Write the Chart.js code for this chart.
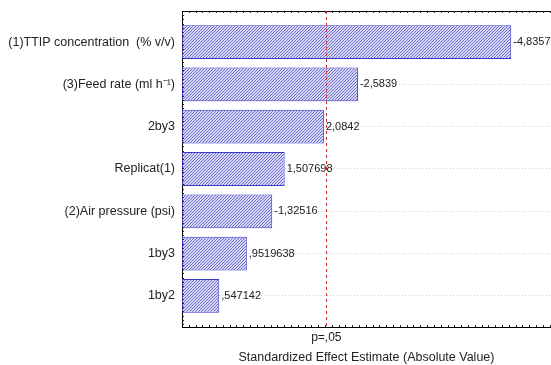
<!DOCTYPE html>
<html>
<head>
<meta charset="utf-8">
<script src="https://cdn.jsdelivr.net/npm/chart.js@4/dist/chart.umd.min.js"></script>
<style>
  html, body { margin: 0; padding: 0; background: #fff; }
  #wrap { width: 551px; height: 365px; }
</style>
</head>
<body>
<div id="wrap"><canvas id="pareto"></canvas></div>
<script>
// Pareto chart of standardized effects
const effectNames = [
    '(1)TTIP concentration  (% v/v)',
    '(3)Feed rate (ml h\u207B\u00B9)',
    '2by3',
    'Replicat(1)',
    '(2)Air pressure (psi)',
    '1by3',
    '1by2'
];
const effectValues = [-4.8357, -2.5839, 2.0842, 1.507698, -1.32516, 0.9519638, 0.547142];
const effectLabels = ['-4,8357', '-2,5839', '2,0842', '1,507698', '-1,32516', ',9519638', ',547142'];
const pCritical = 2.12;
const pLabel = 'p=,05';
const xMax = 5.42;

const FONT = '"Liberation Sans", Arial, sans-serif';

// diagonal hatch fill for the bars
function hatch() {
    const c = document.createElement('canvas');
    c.width = 3; c.height = 3;
    const g = c.getContext('2d');
    g.fillStyle = '#d8d8f6';
    g.fillRect(0, 0, 3, 3);
    g.strokeStyle = '#6060c4';
    g.lineWidth = 0.9;
    g.beginPath();
    g.moveTo(-1, 4); g.lineTo(4, -1);
    g.moveTo(-1, 1); g.lineTo(1, -1);
    g.moveTo(2, 4); g.lineTo(4, 2);
    g.stroke();
    return g.createPattern(c, 'repeat');
}

// frame, minor ticks, critical line and bar value labels
const decorations = {
    id: 'decorations',
    afterDatasetsDraw(chart) {
        const { ctx, chartArea: a, scales: { x, y } } = chart;
        ctx.save();
        ctx.strokeStyle = '#000';
        ctx.lineWidth = 1;
        ctx.beginPath();
        ctx.moveTo(a.left, a.top + 0.5);
        ctx.lineTo(a.right, a.top + 0.5);
        ctx.stroke();

        ctx.strokeStyle = '#222';
        ctx.beginPath();
        for (let v = 0.1; v < xMax; v += 0.1) {
            const px = Math.round(x.getPixelForValue(v)) + 0.5;
            ctx.moveTo(px, a.top); ctx.lineTo(px, a.top + 2);
            ctx.moveTo(px, a.bottom); ctx.lineTo(px, a.bottom - 2);
        }
        for (let v = y.min + 0.1; v < y.max; v += 0.1) {
            const py = Math.round(y.getPixelForValue(v)) + 0.5;
            ctx.moveTo(a.left, py); ctx.lineTo(a.left + 2, py);
        }
        ctx.stroke();

        const px = Math.round(x.getPixelForValue(pCritical)) + 0.5;
        ctx.strokeStyle = '#c83232';
        ctx.setLineDash([3, 3]);
        ctx.beginPath();
        ctx.moveTo(px, a.top);
        ctx.lineTo(px, a.bottom);
        ctx.stroke();
        ctx.setLineDash([]);

        ctx.fillStyle = '#222';
        ctx.font = '11px ' + FONT;
        ctx.textBaseline = 'middle';
        ctx.textAlign = 'left';
        chart.getDatasetMeta(0).data.forEach((bar, i) => {
            ctx.fillText(effectLabels[i], bar.x + 2, bar.y);
        });
        ctx.restore();
    }
};

new Chart(document.getElementById('pareto'), {
    type: 'bar',
    data: {
        datasets: [{
            data: effectValues.map((v, i) => ({ x: Math.abs(v), y: i })),
            backgroundColor: hatch(),
            borderColor: '#3a3ac8',
            borderWidth: 1,
            borderSkipped: false,
            categoryPercentage: 1,
            barPercentage: 0.8
        }]
    },
    options: {
        indexAxis: 'y',
        responsive: true,
        maintainAspectRatio: false,
        animation: false,
        layout: { padding: { top: 11, right: 0, left: 0, bottom: 0 } },
        plugins: { legend: { display: false }, tooltip: { enabled: false } },
        scales: {
            x: {
                type: 'linear',
                min: 0,
                max: xMax,
                afterBuildTicks: s => { s.ticks = [{ value: pCritical }]; },
                afterFit: s => { s.height = 38; s.paddingLeft = 0; s.paddingRight = 0; },
                grid: { display: false, drawTicks: false },
                border: { display: true, color: '#000' },
                ticks: {
                    padding: 3,
                    color: '#222',
                    font: { family: FONT, size: 12 },
                    callback: () => pLabel
                },
                title: {
                    display: true,
                    text: 'Standardized Effect Estimate (Absolute Value)',
                    color: '#222',
                    font: { family: FONT, size: 12.5 },
                    padding: { top: 5, bottom: 0 }
                }
            },
            y: {
                type: 'linear',
                reverse: true,
                offset: false,
                min: -0.735,
                max: effectNames.length - 1 + 0.735,
                afterBuildTicks: s => { s.ticks = effectNames.map((_, i) => ({ value: i })); },
                afterFit: s => { s.width = 182; s.paddingTop = 0; s.paddingBottom = 0; },
                grid: { color: '#d2d2d2', drawTicks: false, offset: false },
                border: { display: true, color: '#000', dash: [1, 2] },
                ticks: {
                    padding: 7,
                    color: '#222',
                    font: { family: FONT, size: 12.5 },
                    callback: v => effectNames[v]
                }
            }
        }
    },
    plugins: [decorations]
});
</script>
</body>
</html>
